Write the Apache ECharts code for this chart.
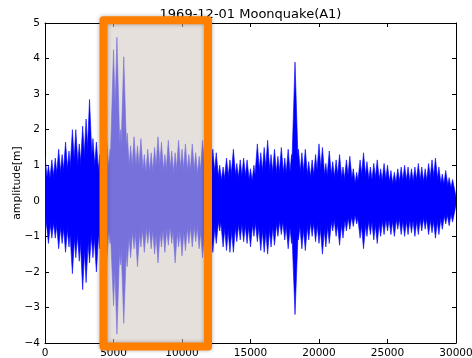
<!DOCTYPE html>
<html><head><meta charset="utf-8">
<script src="https://cdn.jsdelivr.net/npm/echarts@6/dist/echarts.min.js"></script>
<style>html,body{margin:0;padding:0;background:#fff}#c{width:472px;height:358px}</style>
</head><body><div id="c"></div>
<script>
const titleText = '1969-12-01 Moonquake(A1)';
const yName = 'amplitude[m]';
const xRange = [0, 30000, 5000];
const yRange = [-4, 5, 1];
// signal envelope, one bin per 250 samples
const binSize = 250;
const upper = [
  1.25, 1.0, 1.15, 1.2, 1.45, 1.3, 1.65, 1.4, 2.0, 2.0, 1.6, 2.1, 2.3, 2.85, 1.75, 1.65, 1.3, 1.5,
  1.75, 1.45, 4.25, 4.6, 2.0, 4.05, 1.9, 1.55, 1.8, 1.55, 1.75, 1.3, 1.45, 1.35, 1.5, 1.8, 1.65, 1.3,
  1.7, 1.4, 1.35, 1.7, 1.45, 1.6, 1.3, 1.6, 1.35, 1.25, 1.7, 1.4,
  1.3, 1.45, 1.35, 1.0, 0.95, 1.2, 1.15, 1.45, 1.05, 1.15, 1.2, 1.15, 0.9, 1.0, 1.6, 1.35, 1.5, 1.7,
  1.3, 1.45, 1.25, 1.5, 1.2, 1.45, 1.3, 3.9, 1.45, 1.35, 1.45, 1.1, 1.15, 1.3, 1.6, 1.5, 1.05, 1.4, 1.1,
  1.15, 1.3, 0.95, 1.15, 1.25, 0.9, 0.8, 1.15, 1.35, 1.1, 0.95, 1.05, 1.15, 0.9, 1.05, 1.0, 0.85, 0.8,
  0.9, 0.95, 1.0, 0.95, 0.9, 0.95, 1.05, 0.95, 0.9, 1.05, 1.15, 1.2, 0.95, 0.75, 0.85, 0.65, 0.6
];
const lower = [
  -0.9, -1.2, -1.05, -1.05, -1.35, -1.2, -1.45, -1.3, -2.05, -1.6, -1.7, -2.5, -2.3, -1.75, -1.6, -2.0, -1.35, -1.5,
  -1.7, -1.2, -2.95, -3.75, -1.8, -3.45, -1.85, -1.6, -1.35, -1.85, -1.3, -1.45, -1.2, -1.35, -1.5, -1.75, -1.3, -1.45,
  -1.25, -1.2, -1.75, -1.3, -1.55, -1.4, -1.2, -1.3, -1.15, -1.35, -1.6, -1.25,
  -1.3, -1.45, -1.2, -0.85, -1.3, -1.4, -1.45, -1.45, -1.15, -1.1, -1.15, -1.2, -1.3, -1.0, -1.15, -1.4, -1.45, -1.5,
  -1.3, -1.25, -1.0, -0.95, -1.1, -1.35, -1.2, -3.2, -1.1, -1.35, -1.4, -1.1, -1.0, -1.15, -1.2, -1.5, -1.3, -1.2, -0.85,
  -1.0, -1.25, -1.05, -0.85, -0.8, -0.72, -0.65, -1.05, -1.35, -1.0, -0.95, -1.1, -1.2, -1.0, -0.95, -0.85, -0.95, -1.0,
  -0.8, -0.95, -1.0, -0.95, -0.9, -1.0, -0.95, -0.85, -0.8, -0.95, -0.9, -1.05, -0.95, -0.8, -0.65, -0.7, -0.6
];
// highlighted window (data units)
const boxX = [4270, 11900];
const boxY = [-4.1, 5.08];

const FONT = 'DejaVu Sans';
const signal = upper.map((u, i) => [i * binSize, u, lower[i]]);
const spread = binSize * 1.25; // drawing width of each spike (style only)
const minus = v => String(v).replace('-', '\u2212');
const axisCommon = {
  type: 'value',
  axisLine: { show: true, onZero: false, lineStyle: { color: '#000', width: 1 } },
  axisTick: { show: true, inside: true, length: 4, lineStyle: { color: '#000' } },
  splitLine: { show: false }
};
const chart = echarts.init(document.getElementById('c'), null, { renderer: 'canvas' });
chart.setOption({
  animation: false,
  backgroundColor: '#fff',
  title: {
    text: titleText, left: 250.5, top: 8, padding: 0, textAlign: 'center',
    textStyle: { fontFamily: FONT, fontSize: 13, fontWeight: 'normal', color: '#000' }
  },
  grid: { left: 45, right: 16, top: 23, bottom: 15, containLabel: false, outerBoundsMode: 'none' },
  xAxis: [
    Object.assign({}, axisCommon, {
      min: xRange[0], max: xRange[1], interval: xRange[2], position: 'bottom',
      axisLabel: { color: '#000', fontFamily: FONT, fontSize: 10.5, margin: 5, formatter: v => String(v), hideOverlap: false }
    }),
    Object.assign({}, axisCommon, {
      min: xRange[0], max: xRange[1], interval: xRange[2], position: 'top',
      axisLabel: { show: false }
    })
  ],
  yAxis: [
    Object.assign({}, axisCommon, {
      min: yRange[0], max: yRange[1], interval: yRange[2], position: 'left',
      name: yName, nameLocation: 'middle', nameGap: 22, nameRotate: 90, nameMoveOverlap: false,
      nameTextStyle: { fontFamily: FONT, fontSize: 10.8, color: '#000' },
      axisLabel: { color: '#000', fontFamily: FONT, fontSize: 10.5, margin: 5, formatter: minus }
    }),
    Object.assign({}, axisCommon, {
      min: yRange[0], max: yRange[1], interval: yRange[2], position: 'right',
      axisLabel: { show: false }
    })
  ],
  series: [{
    type: 'custom', data: signal, xAxisIndex: 0, yAxisIndex: 0, clip: true, z: 2,
    renderItem: function (params, api) {
      const x = api.value(0), hi = api.value(1), lo = api.value(2);
      const pts = [
        api.coord([x - spread, 0]), api.coord([x, hi]),
        api.coord([x + spread, 0]), api.coord([x, lo])
      ];
      return { type: 'polygon', shape: { points: pts }, style: { fill: '#0000ff', stroke: '#0000ff', lineWidth: 0.6 } };
    }
  }]
});
const p1 = chart.convertToPixel({ xAxisIndex: 0, yAxisIndex: 0 }, [boxX[0], boxY[1]]);
const p2 = chart.convertToPixel({ xAxisIndex: 0, yAxisIndex: 0 }, [boxX[1], boxY[0]]);
const shape = { x: p1[0], y: p1[1], width: p2[0] - p1[0], height: p2[1] - p1[1] };
chart.setOption({
  graphic: [
    { type: 'rect', z: 100, shape: shape, style: { fill: 'rgba(211,200,193,0.565)' } },
    { type: 'rect', z: 101, shape: shape,
      style: { fill: 'none', stroke: '#ff7f00', lineWidth: 8, lineJoin: 'round',
               shadowBlur: 4, shadowColor: 'rgba(0,0,0,0.3)' } }
  ]
});
</script></body></html>
